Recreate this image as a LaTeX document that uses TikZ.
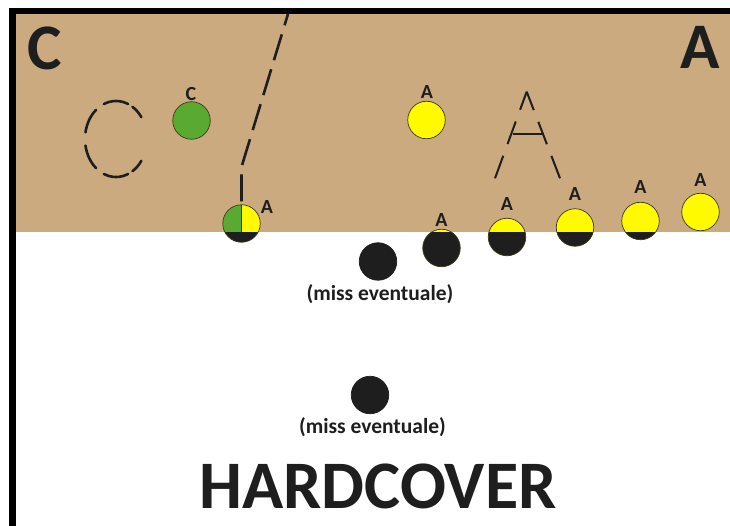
\documentclass[tikz,border=0pt]{standalone}
\usepackage{fontspec}
\setmainfont{Carlito}
\usepackage{xcolor}
\usepackage{tikz}
\usetikzlibrary{positioning}

\definecolor{kraft}{RGB}{204,170,128}
\definecolor{ink}{RGB}{30,30,30}
\definecolor{rim}{RGB}{60,55,30}
\definecolor{leaf}{RGB}{90,170,50}
\definecolor{lemon}{RGB}{255,250,0}

\begin{document}
\begin{tikzpicture}[x=1pt, y=-1pt,
  every node/.style={inner sep=0pt, text=ink},
  disc/.style={circle, minimum size=37.5pt, draw=rim, line width=0.7pt, fill=lemon},
  below cut/.style={path picture={\fill[ink] (cutNW) rectangle (cutSE);}},
  split/.style={path picture={
    \fill[leaf] (path picture bounding box.north west) rectangle (path picture bounding box.south);
    \draw[rim, line width=0.7pt] (path picture bounding box.north) -- (path picture bounding box.south);
    \fill[ink] (cutNW) rectangle (cutSE);}},
  tag/.style={font=\fontsize{20}{22}\selectfont\bfseries},
  bigtag/.style={font=\fontsize{65}{70}\selectfont\bfseries},
  note/.style={font=\fontsize{21.5}{24}\selectfont\bfseries},
  foldline/.style={ink, line width=2.6pt, dash pattern=on 27pt off 9.5pt, dash phase=33.5pt},
  letterline/.style={ink, line width=2pt, dash pattern=on 24pt off 12.5pt},
  cline/.style={ink, line width=2.6pt, line cap=round}]

% ------------------------------------------------------------------
% SHEET: kraft board above the cut, white below, black frame
% ------------------------------------------------------------------
\useasboundingbox (0,0) rectangle (730,526);
\fill[white] (0,0) rectangle (730,526);
\fill[kraft] (16,14) rectangle (730,232);
\coordinate (cutNW) at (0,232);
\coordinate (cutSE) at (730,526);

\fill[black] (9,8) rectangle (730,14);
\fill[black] (9,8) rectangle (16,526);

\node[bigtag] (bigC) at (45,48) {C};
\node[bigtag] (bigA) at (700.5,47.5) {A};

% ------------------------------------------------------------------
% DASHED LETTERS
% ------------------------------------------------------------------
\coordinate (cmid) at (116,139);
\foreach \a/\b in {35/58, 67/113, 130/170, 190/230, 247/293, 302/325}
  \draw[cline] (cmid) ++(\a:31pt and 38pt)
    arc[start angle=\a, end angle=\b, x radius=31pt, y radius=38pt];

\coordinate (Atop) at (526.7,91.7);
\coordinate (Aleft) at (495,178.3);
\coordinate (Aright) at (560,178.3);
\draw[letterline] (Aleft) -- (Atop);
\draw[letterline] (Aright) -- (Atop);
\draw[ink, line width=2pt] (513,134) -- (544,134);

% ------------------------------------------------------------------
% DISCS with their labels
% ------------------------------------------------------------------
\node[disc, fill=leaf] (c1) at (191.5,120.5) {};
\node[tag] (tc1) at (191,94.5) {C};

\node[disc, split] (s1) at (241.5,223.5) {};
\node[tag] (ts1) at (267,206.7) {A};

\node[disc] (a1) at (426.5,120) {};
\node[tag] (ta1) at (427,92.5) {A};

\foreach \n/\px/\py/\ly in {a2/441.5/248/220, a3/507/237/204, a4/575/227.5/194,
                            a5/640.5/221/187.5, a6/700.5/212/180} {
  \node[disc, below cut] (\n) at (\px,\py) {};
  \node[tag] (t\n) at (\px,\ly) {A};
}

% fold line running down to the split disc
\coordinate (foldtop) at (288,14);
\coordinate (foldbend) at (241.5,167);
\draw[foldline] (s1.north) -- (foldbend) -- (foldtop);

% ------------------------------------------------------------------
% OPTIONAL MARKS below the cut
% ------------------------------------------------------------------
\node[disc, fill=ink, draw=ink] (m1) at (378,261.5) {};
\node[note] (n1) at (380,294.5) {(miss eventuale)};
\node[disc, fill=ink, draw=ink] (m2) at (370,395) {};
\node[note] (n2) at (372.5,427.5) {(miss eventuale)};

\node[font=\fontsize{68}{72}\selectfont\bfseries] (title) at (378,486.5) {HARDCOVER};

\end{tikzpicture}
\end{document}
